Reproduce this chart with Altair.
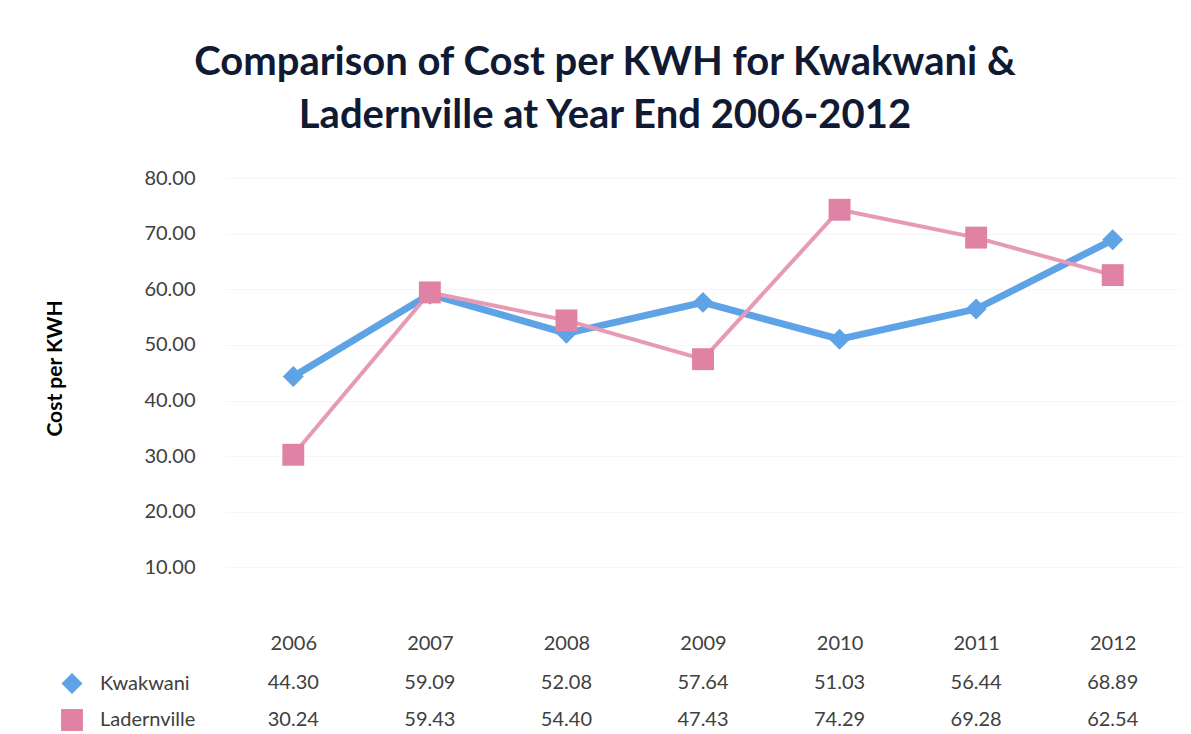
import altair as alt
import pandas as pd

years = ["2006", "2007", "2008", "2009", "2010", "2011", "2012"]
kwakwani = [44.30, 59.09, 52.08, 57.64, 51.03, 56.44, 68.89]
ladernville = [30.24, 59.43, 54.40, 47.43, 74.29, 69.28, 62.54]
series_names = ["Kwakwani", "Ladernville"]
series_colors = ["#5ea3e6", "#e79ab6"]
marker_colors = ["#5ea3e6", "#e082a3"]
y_ticks = [10, 20, 30, 40, 50, 60, 70, 80]

rows = []
for name, vals in zip(series_names, [kwakwani, ladernville]):
    for yr, v in zip(years, vals):
        rows.append({"Year": yr, "Series": name, "Cost": v, "Label": f"{v:.2f}"})
df = pd.DataFrame(rows)

FONT = "Lato"
x_enc = alt.X("Year:N", sort=years, title=None,
              scale=alt.Scale(paddingInner=0, paddingOuter=0.5),
              axis=alt.Axis(labelAngle=0, labelFont=FONT, labelFontSize=20,
                            labelColor="#404040", labelPadding=10, domain=False,
                            ticks=False, grid=False))
y_enc = alt.Y("Cost:Q", title="Cost per KWH",
              scale=alt.Scale(domain=[0, 80]),
              axis=alt.Axis(values=y_ticks, format=".2f", labelFont=FONT,
                            labelFontSize=20, labelColor="#404040",
                            labelPadding=30, domain=False, ticks=False,
                            grid=True, gridColor="#f6f6f6",
                            titleFont=FONT, titleFontSize=21,
                            titleFontWeight="bold", titleColor="#000000",
                            titleX=-160, titleY=190, titleAngle=270))

kw = df[df.Series == "Kwakwani"]
ld = df[df.Series == "Ladernville"]

line_kw = alt.Chart(kw).mark_line(color=series_colors[0], strokeWidth=7).encode(x=x_enc, y=y_enc)
line_ld = alt.Chart(ld).mark_line(color=series_colors[1], strokeWidth=4).encode(x=x_enc, y=y_enc)

points = alt.Chart(df).mark_point(filled=True, opacity=1).encode(
    x=x_enc, y=y_enc,
    color=alt.Color("Series:N", scale=alt.Scale(domain=series_names, range=marker_colors),
                    legend=alt.Legend(title=None, orient="none", legendX=-165, legendY=494,
                                      direction="vertical", labelFont=FONT,
                                      labelFontSize=20, labelColor="#404040",
                                      symbolSize=260, rowPadding=14, labelOffset=16)),
    shape=alt.Shape("Series:N", scale=alt.Scale(domain=series_names, range=["diamond", "square"]),
                    legend=None),
    size=alt.Size("Series:N", scale=alt.Scale(domain=series_names, range=[440, 480]), legend=None),
)

table_kw = alt.Chart(kw).mark_text(font=FONT, fontSize=20, color="#404040").encode(
    x=x_enc, y=alt.value(505), text="Label:N")
table_ld = alt.Chart(ld).mark_text(font=FONT, fontSize=20, color="#404040").encode(
    x=x_enc, y=alt.value(542), text="Label:N")

chart = alt.layer(line_kw, line_ld, points, table_kw, table_ld).properties(
    width=956, height=445,
    title=alt.TitleParams(
        text=["Comparison of Cost per KWH for Kwakwani &",
              "Ladernville at Year End 2006-2012"],
        font=FONT, fontSize=40, fontWeight="bold", color="#111a33",
        anchor="middle", frame="group", dx=-98, offset=32, lineHeight=53),
    autosize=alt.AutoSizeParams(type="none"),
    padding={"left": 217, "top": 170, "right": 2, "bottom": 108},
).configure(background="white").configure_view(stroke=None)

chart.save("out.html", embed_options={"renderer": "svg", "actions": False})
